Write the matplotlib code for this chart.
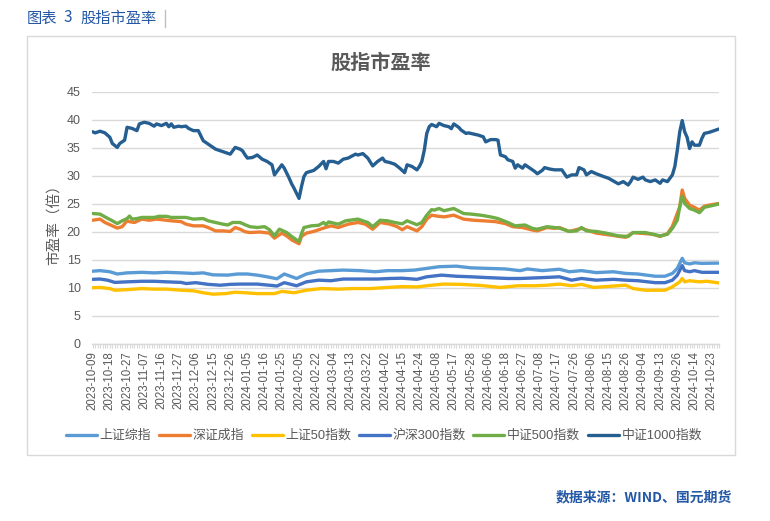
import matplotlib
matplotlib.use("Agg")
import matplotlib.pyplot as plt
from matplotlib.patches import Rectangle
from matplotlib.lines import Line2D

plt.rcParams['font.family'] = ['Liberation Sans', 'Noto Sans CJK SC', 'DejaVu Sans']

# ---------------- data ----------------
TICK_LABELS = ["2023-10-09", "2023-10-18", "2023-10-27", "2023-11-07", "2023-11-16", "2023-11-27",
               "2023-12-06", "2023-12-15", "2023-12-26", "2024-01-05", "2024-01-16", "2024-01-25",
               "2024-02-05", "2024-02-22", "2024-03-04", "2024-03-13", "2024-03-22", "2024-04-02",
               "2024-04-15", "2024-04-24", "2024-05-08", "2024-05-17", "2024-05-28", "2024-06-06",
               "2024-06-18", "2024-06-27", "2024-07-08", "2024-07-17", "2024-07-26", "2024-08-06",
               "2024-08-15", "2024-08-26", "2024-09-04", "2024-09-13", "2024-09-26", "2024-10-14",
               "2024-10-23"]
TICK_STEP = 7          # one label every 7 trading days
N_DAYS = 256           # trading days 2023-10-09 .. 2024-10-28

SERIES_NAMES = ["上证综指", "深证成指", "上证50指数", "沪深300指数", "中证500指数", "中证1000指数"]

# trading-day index / value pairs
SH_IDX = [0, 3, 7, 10, 14, 20, 25, 30, 36, 41, 45, 49, 55, 59, 63, 67, 71, 75, 78, 83, 87, 92, 97, 102,
          109, 115, 120, 126, 131, 136, 141, 148, 154, 161, 168, 174, 177, 183, 190, 194, 199, 205, 212,
          217, 222, 229, 233, 236, 238, 240, 241, 243, 245, 248, 255]
SH_VAL = [13.0, 13.1, 12.9, 12.5, 12.7, 12.8, 12.7, 12.8, 12.7, 12.6, 12.7, 12.35, 12.3, 12.5, 12.5, 12.3,
          12.0, 11.65, 12.5, 11.7, 12.5, 13.0, 13.1, 13.2, 13.1, 12.9, 13.1, 13.1, 13.2, 13.5, 13.8, 13.9,
          13.6, 13.5, 13.4, 13.1, 13.4, 13.1, 13.35, 12.9, 13.1, 12.75, 12.9, 12.6, 12.5, 12.1, 12.1, 12.6,
          13.5, 15.3, 14.5, 14.3, 14.5, 14.4, 14.45]

SZ_IDX = [0, 3, 5, 8, 10, 12, 14, 15, 17, 20, 23, 26, 30, 32, 36, 38, 41, 45, 47, 50, 53, 56, 58, 60, 62,
          64, 68, 72, 74, 77, 79, 81, 84, 85, 87, 90, 94, 97, 100, 104, 108, 111, 114, 117, 121, 124, 126,
          128, 132, 134, 136, 138, 140, 143, 147, 151, 155, 159, 164, 168, 171, 175, 179, 181, 185, 188,
          190, 194, 199, 205, 210, 217, 220, 228, 231, 234, 236, 239, 240, 241, 243, 245, 247, 249, 251, 255]
SZ_VAL = [22.1, 22.3, 21.7, 21.1, 20.7, 20.95, 22.0, 21.85, 21.7, 22.3, 22.1, 22.3, 22.1, 22.0, 21.85, 21.4,
          21.1, 21.1, 20.8, 20.2, 20.2, 20.1, 20.8, 20.5, 20.05, 19.9, 20.0, 19.8, 18.9, 19.8, 19.3, 18.6,
          17.9, 19.2, 19.8, 20.1, 20.7, 21.1, 20.8, 21.4, 21.7, 21.4, 20.5, 21.7, 21.4, 20.95, 20.4, 20.95,
          20.2, 20.95, 22.3, 23.0, 22.85, 22.7, 23.0, 22.3, 22.1, 22.0, 21.85, 21.5, 20.95, 20.8, 20.35,
          20.2, 20.8, 20.65, 20.8, 20.1, 20.65, 19.8, 19.5, 19.05, 19.9, 19.6, 19.2, 19.7, 21.0, 24.5, 27.5,
          26.0, 24.8, 24.4, 23.9, 24.6, 24.8, 25.1]

SZ50_IDX = [0, 3, 7, 9, 14, 20, 25, 30, 36, 41, 45, 49, 54, 58, 62, 67, 74, 77, 82, 87, 93, 100, 106, 113,
            120, 126, 132, 138, 143, 150, 158, 166, 173, 180, 185, 190, 195, 199, 204, 212, 217, 220, 225,
            233, 236, 239, 240, 241, 243, 247, 250, 255]
SZ50_VAL = [10.05, 10.1, 9.9, 9.6, 9.7, 9.9, 9.8, 9.8, 9.6, 9.5, 9.15, 8.9, 9.0, 9.25, 9.15, 9.0, 9.0, 9.4,
            9.15, 9.6, 9.9, 9.8, 9.9, 9.9, 10.1, 10.25, 10.2, 10.5, 10.7, 10.65, 10.45, 10.1, 10.4, 10.4,
            10.5, 10.7, 10.4, 10.65, 10.1, 10.35, 10.5, 9.9, 9.6, 9.6, 10.2, 11.1, 11.7, 11.1, 11.3, 11.1,
            11.2, 10.9]

HS300_IDX = [0, 3, 6, 9, 14, 20, 25, 30, 36, 38, 42, 47, 52, 56, 60, 63, 67, 73, 75, 78, 83, 87, 92, 97,
             102, 109, 116, 121, 126, 132, 136, 142, 148, 154, 161, 169, 174, 183, 190, 195, 199, 205, 212,
             217, 222, 229, 233, 236, 238, 240, 241, 243, 245, 248, 255]
HS300_VAL = [11.55, 11.6, 11.4, 11.0, 11.1, 11.2, 11.2, 11.1, 11.0, 10.8, 10.95, 10.65, 10.5, 10.65, 10.7,
             10.7, 10.7, 10.45, 10.35, 10.95, 10.4, 11.1, 11.4, 11.3, 11.6, 11.6, 11.6, 11.7, 11.75, 11.55,
             12.0, 12.3, 12.1, 12.0, 11.85, 11.7, 11.7, 11.85, 12.0, 11.4, 11.7, 11.4, 11.55, 11.4, 11.3,
             10.95, 10.95, 11.4, 12.3, 14.0, 13.1, 12.9, 13.1, 12.8, 12.8]

CSI500_IDX = [0, 3, 5, 8, 10, 12, 14, 15, 16, 18, 20, 22, 25, 27, 30, 32, 35, 38, 41, 45, 47, 50, 53, 55,
              57, 60, 62, 64, 67, 70, 72, 74, 76, 79, 81, 84, 85, 86, 89, 92, 94, 95, 96, 100, 103, 108,
              110, 112, 114, 117, 120, 123, 126, 128, 132, 134, 136, 138, 139, 141, 143, 147, 151, 154,
              158, 162, 165, 169, 172, 176, 179, 181, 185, 188, 190, 194, 197, 199, 201, 205, 209, 214,
              218, 220, 225, 228, 231, 234, 236, 238, 239, 240, 241, 243, 245, 247, 249, 251, 255]
CSI500_VAL = [23.3, 23.2, 22.7, 22.0, 21.5, 22.0, 22.4, 22.85, 22.3, 22.4, 22.6, 22.6, 22.6, 22.8, 22.8,
              22.6, 22.6, 22.6, 22.3, 22.4, 22.0, 21.7, 21.4, 21.25, 21.7, 21.7, 21.3, 20.95, 20.8, 20.95,
              20.4, 19.3, 20.5, 19.9, 19.2, 18.3, 19.7, 20.8, 21.1, 21.2, 21.7, 21.3, 21.8, 21.4, 22.0, 22.3,
              22.0, 21.7, 20.95, 22.1, 22.0, 21.7, 21.45, 22.0, 21.3, 21.7, 23.0, 24.0, 23.9, 24.2, 23.8,
              24.2, 23.3, 23.2, 23.0, 22.7, 22.4, 21.7, 21.1, 21.25, 20.65, 20.5, 20.95, 20.8, 20.7, 20.1,
              20.2, 20.8, 20.2, 20.1, 19.8, 19.3, 19.2, 19.9, 19.9, 19.6, 19.3, 19.6, 20.65, 22.1, 24.5,
              26.4, 25.1, 24.2, 23.9, 23.45, 24.4, 24.6, 25.0]

CSI1000_IDX = [0, 1, 3, 5, 7, 8, 10, 11, 13, 14, 16, 18, 19, 21, 23, 25, 26, 28, 30, 31, 32, 33, 35, 36,
               38, 39, 41, 43, 45, 46, 48, 50, 52, 54, 56, 58, 60, 61, 62, 63, 65, 67, 69, 71, 73, 74, 75,
               77, 78, 80, 81, 82, 84, 85, 86, 87, 90, 92, 94, 95, 96, 98, 100, 102, 104, 107, 108, 110,
               112, 114, 116, 118, 119, 121, 123, 125, 127, 128, 130, 132, 133, 134, 135, 136, 137, 138,
               140, 141, 143, 145, 146, 147, 149, 150, 152, 153, 155, 157, 159, 160, 162, 164, 165, 166,
               168, 169, 171, 172, 173, 175, 176, 178, 180, 181, 183, 184, 186, 188, 190, 191, 193, 195,
               197, 198, 200, 201, 203, 205, 208, 210, 212, 214, 216, 218, 219, 220, 222, 224, 225, 227,
               229, 231, 232, 234, 236, 237, 238, 239, 240, 241, 242, 243, 244, 245, 247, 248, 249, 251,
               253, 255]
CSI1000_VAL = [37.9, 37.7, 38.0, 37.7, 36.9, 35.8, 35.1, 35.8, 36.4, 38.7, 38.5, 38.1, 39.3, 39.6, 39.4,
               38.9, 39.3, 39.0, 39.4, 38.8, 39.3, 38.7, 38.9, 38.8, 38.9, 38.5, 38.1, 38.1, 36.3, 36.0,
               35.4, 34.8, 34.5, 34.2, 33.9, 35.1, 34.8, 34.5, 33.8, 33.2, 33.3, 33.75, 33.0, 32.6, 32.0,
               30.2, 30.8, 32.0, 31.4, 29.6, 28.6, 27.8, 26.0, 28.1, 29.9, 30.6, 31.0, 31.7, 32.6, 31.3,
               32.6, 32.6, 32.3, 33.0, 33.2, 33.9, 33.75, 34.0, 33.2, 31.8, 32.6, 33.2, 32.6, 32.4, 32.1,
               31.4, 30.6, 32.0, 31.7, 31.1, 31.7, 32.6, 34.6, 37.6, 38.8, 39.2, 38.8, 39.4, 39.0, 38.8,
               38.45, 39.3, 38.7, 38.2, 37.6, 37.7, 37.5, 37.3, 37.0, 36.1, 36.5, 36.5, 36.4, 33.75, 33.45,
               32.9, 32.6, 31.4, 32.0, 31.4, 32.0, 31.4, 30.8, 30.4, 31.0, 31.5, 31.25, 31.1, 31.1, 31.1,
               29.8, 30.2, 30.2, 31.5, 31.1, 30.2, 30.8, 30.4, 29.9, 29.6, 29.1, 28.6, 29.0, 28.4, 29.0,
               29.8, 29.4, 29.8, 29.3, 29.0, 29.3, 28.7, 29.3, 29.0, 30.2, 31.7, 34.6, 37.9, 39.9, 37.9,
               36.9, 34.9, 36.1, 35.5, 35.5, 36.7, 37.6, 37.8, 38.1, 38.4]

COLORS = ["#5B9BD5", "#ED7D31", "#FFC000", "#4472C4", "#70AD47", "#255E91"]

# ---------------- figure ----------------
W, H = 770, 521
fig = plt.figure(figsize=(W / 100, H / 100), dpi=100)

def fx(px):
    return px / W

def fy(py):
    return 1 - py / H

CJK = ['Noto Sans CJK SC', 'DejaVu Sans']

# outer frame
fig.patches.append(Rectangle((fx(27), fy(455)), fx(735) - fx(27), fy(36) - fy(455),
                             transform=fig.transFigure, fill=False, edgecolor="#D9D9D9", lw=1.0))
# header
HEAD_C = "#2458A5"
fig.text(fx(27), fy(18), "图表", fontsize=11, color=HEAD_C, ha="left", va="center", family=CJK)
fig.text(fx(64), fy(18), "3", fontsize=11, color=HEAD_C, ha="left", va="center", family=CJK)
fig.text(fx(80), fy(18), "股指市盈率", fontsize=11, color=HEAD_C, ha="left", va="center", family=CJK)
fig.lines.append(Line2D([fx(165), fx(165)], [fy(10), fy(27)], transform=fig.transFigure,
                        color="#BFBFBF", lw=1))
# footer
fig.text(fx(732), fy(497), "数据来源：WIND、国元期货", fontsize=10, color="#2458A5",
         ha="right", va="center", fontweight="bold", family=CJK)
# chart title
fig.text(fx(381), fy(62), "股指市盈率", fontsize=14.5, color="#595959", fontweight="bold",
         ha="center", va="center", family=CJK)

left, right, top, bottom = 91.7, 719.3, 92, 344
ax = fig.add_axes([fx(left), fy(bottom), fx(right) - fx(left), fy(top) - fy(bottom)])

series = [(SH_IDX, SH_VAL), (SZ_IDX, SZ_VAL), (SZ50_IDX, SZ50_VAL),
          (HS300_IDX, HS300_VAL), (CSI500_IDX, CSI500_VAL), (CSI1000_IDX, CSI1000_VAL)]
handles = []
for (xi, yv), name, c in zip(series, SERIES_NAMES, COLORS):
    h, = ax.plot(xi, yv, color=c, lw=2.4, label=name, solid_joinstyle="round", solid_capstyle="round")
    handles.append(h)

ax.set_xlim(-0.4, N_DAYS - 0.9)
ax.set_ylim(0, 45)
ax.set_yticks(range(0, 46, 5))
ax.grid(axis="y", color="#D9D9D9", lw=1.0)
ax.set_axisbelow(True)
for s in ["top", "right", "left"]:
    ax.spines[s].set_visible(False)
ax.spines["bottom"].set_color("#D9D9D9")
ax.spines["bottom"].set_linewidth(1.0)

ax.set_xticks([i * TICK_STEP for i in range(len(TICK_LABELS))])
ax.set_xticklabels(TICK_LABELS, rotation=90, fontsize=8.3, color="#595959")
ax.set_xticks(range(N_DAYS), minor=True)
ax.tick_params(axis="x", which="both", length=3, color="#D9D9D9", width=0.8, pad=2)
ax.tick_params(axis="y", length=0, labelsize=9, labelcolor="#595959", pad=8)

ax.set_ylabel("市盈率（倍）", fontsize=10.5, color="#595959", family=CJK)
ax.yaxis.set_label_coords((55 - left) / (right - left), (bottom - 221) / (bottom - top))
ax.yaxis.label.set_va("center")

leg = fig.legend(handles=handles, loc="center", bbox_to_anchor=(fx(384), fy(436)), ncol=6,
                 frameon=False, handlelength=2.4, handletextpad=0.2,
                 columnspacing=0.6, labelcolor="#595959",
                 prop={'family': ['Liberation Sans', 'Noto Sans CJK SC'], 'size': 9.3})

fig.savefig("out.png", dpi=100)
